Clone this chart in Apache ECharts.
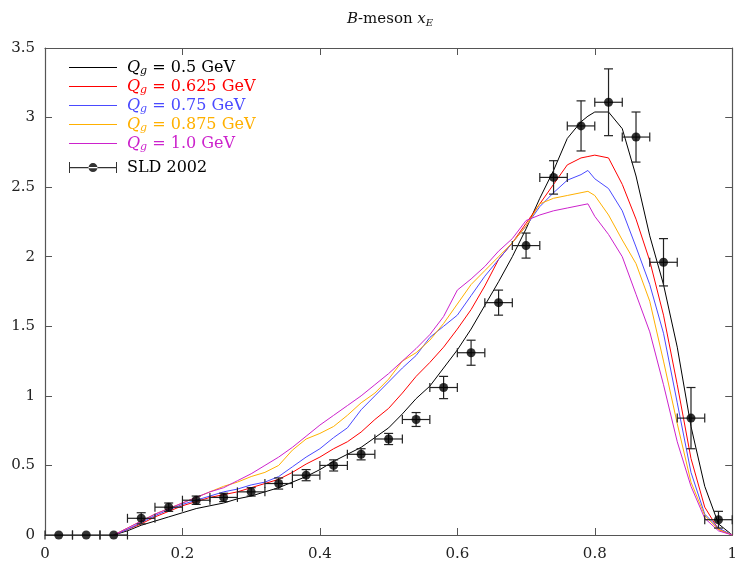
<!DOCTYPE html>
<html>
<head>
<meta charset="utf-8">
<script src="https://cdn.jsdelivr.net/npm/echarts@6/dist/echarts.min.js"></script>
<style>
html,body{margin:0;padding:0;background:#fff;}
#chart{width:740px;height:571px;}
</style>
</head>
<body>
<div id="chart"></div>
<script>
// ---- data ----
const curveX = [0.10,0.12,0.14,0.16,0.18,0.20,0.22,0.24,0.26,0.28,0.30,0.32,0.34,0.36,0.38,0.40,0.42,0.44,0.46,0.48,0.50,0.52,0.54,0.56,0.58,0.60,0.62,0.64,0.66,0.68,0.70,0.72,0.74,0.76,0.78,0.79,0.80,0.82,0.84,0.86,0.88,0.90,0.92,0.94,0.96,0.98,1.00];
const q050 = [0,0.03,0.07,0.10,0.13,0.16,0.19,0.21,0.23,0.26,0.28,0.31,0.34,0.38,0.42,0.47,0.53,0.58,0.63,0.70,0.77,0.87,0.98,1.07,1.20,1.33,1.48,1.65,1.82,2.00,2.20,2.42,2.62,2.85,2.97,3.01,3.04,3.04,2.92,2.58,2.15,1.80,1.35,0.78,0.35,0.08,0];
const q0625 = [0,0.04,0.08,0.13,0.17,0.21,0.24,0.27,0.29,0.31,0.34,0.37,0.40,0.45,0.51,0.56,0.62,0.67,0.74,0.83,0.91,1.02,1.14,1.24,1.35,1.48,1.62,1.79,1.98,2.10,2.24,2.38,2.52,2.66,2.71,2.72,2.73,2.71,2.52,2.27,1.97,1.58,1.08,0.55,0.20,0.04,0];
const q075 = [0,0.04,0.09,0.14,0.18,0.22,0.25,0.28,0.31,0.33,0.36,0.38,0.42,0.49,0.56,0.62,0.70,0.77,0.90,1.00,1.10,1.20,1.29,1.42,1.50,1.58,1.72,1.86,1.98,2.10,2.22,2.36,2.46,2.55,2.59,2.62,2.56,2.49,2.33,2.07,1.80,1.45,0.95,0.45,0.15,0.05,0];
const q0875 = [0,0.05,0.10,0.15,0.19,0.23,0.27,0.31,0.35,0.38,0.42,0.45,0.50,0.61,0.69,0.73,0.78,0.86,0.95,1.02,1.12,1.25,1.31,1.40,1.52,1.66,1.80,1.90,2.00,2.10,2.22,2.38,2.42,2.44,2.46,2.47,2.44,2.30,2.12,1.95,1.68,1.25,0.80,0.38,0.14,0.04,0];
const q100 = [0,0.05,0.10,0.15,0.19,0.23,0.27,0.31,0.34,0.39,0.44,0.50,0.56,0.63,0.71,0.79,0.86,0.93,1.00,1.08,1.16,1.25,1.34,1.44,1.57,1.76,1.84,1.93,2.04,2.13,2.26,2.30,2.33,2.35,2.37,2.38,2.29,2.16,2.00,1.73,1.46,1.08,0.67,0.35,0.12,0.03,0];

const sldX = [0.02,0.06,0.10,0.14,0.18,0.22,0.26,0.30,0.34,0.38,0.42,0.46,0.50,0.54,0.58,0.62,0.66,0.70,0.74,0.78,0.82,0.86,0.90,0.94,0.98];
const sldY = [0,0,0,0.12,0.20,0.25,0.27,0.31,0.37,0.43,0.50,0.58,0.69,0.83,1.06,1.31,1.67,2.08,2.57,2.94,3.11,2.86,1.96,0.84,0.11];
const sldYerr = [0,0,0,0.04,0.03,0.03,0.03,0.03,0.04,0.04,0.04,0.04,0.04,0.05,0.08,0.09,0.09,0.09,0.12,0.18,0.24,0.18,0.17,0.22,0.06];
const sldXerr = [0.02,0.02,0.02,0.02,0.02,0.02,0.02,0.02,0.02,0.02,0.02,0.02,0.02,0.02,0.02,0.02,0.02,0.02,0.02,0.02,0.02,0.02,0.02,0.02,0.02];

const curveNames = ['Q_g = 0.5 GeV','Q_g = 0.625 GeV','Q_g = 0.75 GeV','Q_g = 0.875 GeV','Q_g = 1.0 GeV'];
const curveLabels = ['0.5','0.625','0.75','0.875','1.0'];
const curveColors = ['#000000','#ff0000','#4a4aff','#ffb000','#cc22cc'];
const curveData = [q050,q0625,q075,q0875,q100];
const dataName = 'SLD 2002';
const xTicks = {min:0,max:1,interval:0.2};
const yTicks = {min:0,max:3.5,interval:0.5};

// ---- chart ----
const chart = echarts.init(document.getElementById('chart'), null, {renderer:'canvas'});
const serif = 'DejaVu Serif';
const axisColor = '#555';

function mkRich(color){
  return {
    sp:{width:5,lineHeight:19},
    q:{fontFamily:serif,fontStyle:'italic',fontSize:16,color:color,lineHeight:19},
    s:{fontFamily:serif,fontStyle:'italic',fontSize:11,color:color,verticalAlign:'bottom',padding:[6,0,0,0],lineHeight:19},
    n:{fontFamily:serif,fontSize:16,color:color,lineHeight:19}
  };
}

const series = curveData.map((ys,i)=>({
  name: curveNames[i],
  type:'line',
  data: curveX.map((x,j)=>[x,ys[j]]),
  symbol:'none',
  showSymbol:false,
  lineStyle:{color:curveColors[i],width:1},
  itemStyle:{color:curveColors[i]},
  z:3,
  animation:false
}));

const sldData = sldX.map((x,i)=>[x,sldY[i],sldXerr[i],sldYerr[i]]);

series.push({
  name:dataName+'_err',
  type:'custom',
  data:sldData,
  z:4,
  animation:false,
  renderItem:function(params,api){
    const x=api.value(0), y=api.value(1), ex=api.value(2), ey=api.value(3);
    const pL=api.coord([x-ex,y]), pR=api.coord([x+ex,y]);
    const pT=api.coord([x,y+ey]), pB=api.coord([x,y-ey]);
    const st={stroke:'#222',lineWidth:1.2};
    const cap=4.5;
    const ch=[
      {type:'line',shape:{x1:pL[0],y1:pL[1],x2:pR[0],y2:pR[1]},style:st},
      {type:'line',shape:{x1:pL[0],y1:pL[1]-cap,x2:pL[0],y2:pL[1]+cap},style:st},
      {type:'line',shape:{x1:pR[0],y1:pR[1]-cap,x2:pR[0],y2:pR[1]+cap},style:st}
    ];
    if(ey>0){
      ch.push({type:'line',shape:{x1:pT[0],y1:pT[1],x2:pB[0],y2:pB[1]},style:st});
      ch.push({type:'line',shape:{x1:pT[0]-cap,y1:pT[1],x2:pT[0]+cap,y2:pT[1]},style:st});
      ch.push({type:'line',shape:{x1:pB[0]-cap,y1:pB[1],x2:pB[0]+cap,y2:pB[1]},style:st});
    }
    return {type:'group',children:ch};
  }
});
series.push({
  name:dataName,
  type:'scatter',
  data:sldX.map((x,i)=>[x,sldY[i]]),
  symbol:'circle',
  symbolSize:9,
  itemStyle:{color:'#000'},
  z:5,
  animation:false
});

const legendFmt = function(name){
  const i = curveNames.indexOf(name);
  return '{sp|}{q|Q}{s|g}{n| = '+curveLabels[i]+' GeV}';
};
const lineIcon = 'path://M0,0 L48,0 L48,1.2 L0,1.2 Z';

const option = {
  backgroundColor:'#fff',
  animation:false,
  title:{
    text:'{b|B}{m|-meson }{x|x}{e|E}',
    left:342,
    top:6,
    textStyle:{
      fontWeight:'normal',
      rich:{
        b:{fontFamily:serif,fontStyle:'italic',fontWeight:'normal',fontSize:15,color:'#111'},
        m:{fontFamily:serif,fontWeight:'normal',fontSize:15,color:'#111'},
        x:{fontFamily:serif,fontStyle:'italic',fontWeight:'normal',fontSize:15,color:'#111'},
        e:{fontFamily:serif,fontStyle:'italic',fontWeight:'normal',fontSize:10,color:'#111',verticalAlign:'bottom',padding:[7,0,0,0]}
      }
    }
  },
  grid:{left:45,right:5,top:48,bottom:36,containLabel:false},
  legend:[{
    orient:'vertical',
    left:64,
    top:53,
    itemGap:0,
    itemWidth:48,
    itemHeight:10,
    symbolKeepAspect:true,
    data:curveNames.map((n,i)=>({name:n,icon:lineIcon,itemStyle:{color:curveColors[i]},textStyle:{color:curveColors[i],rich:mkRich(curveColors[i])}})),
    formatter:legendFmt,
    textStyle:{fontFamily:serif,fontSize:16,lineHeight:19}
  },{
    orient:'vertical',
    left:64,
    top:153,
    itemWidth:48,
    itemHeight:11,
    data:[{name:dataName,icon:'path://M0,0 h1 v11 h-1 Z M47,0 h1 v11 h-1 Z M0,5 h48 v1.2 h-48 Z M19.5,5.6 a4.5,4.5 0 1,0 9,0 a4.5,4.5 0 1,0 -9,0 Z',itemStyle:{color:'#000'}}],
    formatter:function(n){return '{sp|}{n|'+n+'}';},
    textStyle:{fontFamily:serif,fontSize:16,lineHeight:19,color:'#000',rich:mkRich('#000')}
  }],
  xAxis:[{
    type:'value',position:'bottom',min:xTicks.min,max:xTicks.max,interval:xTicks.interval,
    axisLine:{show:true,onZero:false,lineStyle:{color:axisColor,width:1.2}},
    axisTick:{show:true,inside:true,length:7,lineStyle:{color:axisColor}},
    axisLabel:{fontFamily:serif,fontSize:15,color:'#222',margin:12},
    splitLine:{show:false}
  },{
    type:'value',position:'top',min:xTicks.min,max:xTicks.max,interval:xTicks.interval,
    axisLine:{show:true,onZero:false,lineStyle:{color:axisColor,width:1.2}},
    axisTick:{show:true,inside:true,length:7,lineStyle:{color:axisColor}},
    axisLabel:{show:false},
    splitLine:{show:false}
  }],
  yAxis:[{
    type:'value',position:'left',min:yTicks.min,max:yTicks.max,interval:yTicks.interval,
    axisLine:{show:true,onZero:false,lineStyle:{color:axisColor,width:1.2}},
    axisTick:{show:true,inside:true,length:7,lineStyle:{color:axisColor}},
    axisLabel:{fontFamily:serif,fontSize:15,color:'#222',margin:10},
    splitLine:{show:false}
  },{
    type:'value',position:'right',min:yTicks.min,max:yTicks.max,interval:yTicks.interval,
    axisLine:{show:true,onZero:false,lineStyle:{color:axisColor,width:1.2}},
    axisTick:{show:true,inside:true,length:7,lineStyle:{color:axisColor}},
    axisLabel:{show:false},
    splitLine:{show:false}
  }],
  series:series
};
chart.setOption(option);
</script>
</body>
</html>
